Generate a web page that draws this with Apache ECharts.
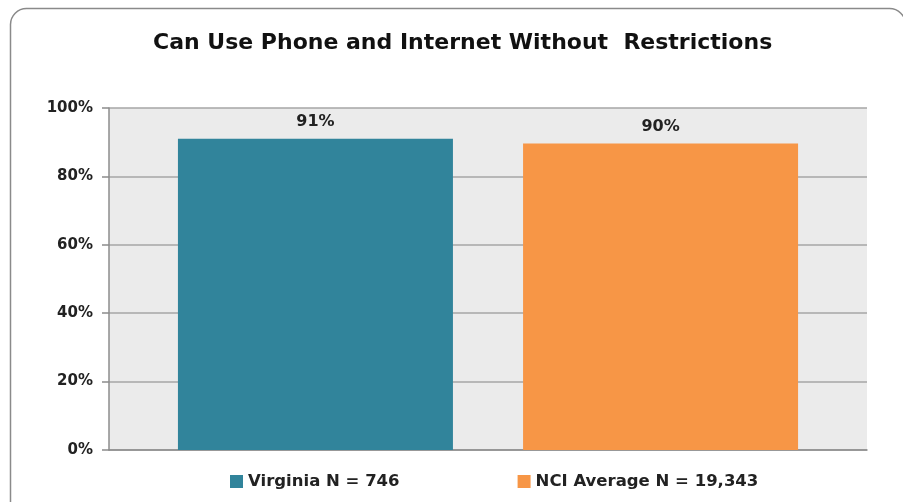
<!DOCTYPE html>
<html><head><meta charset="utf-8">
<script src="https://cdn.jsdelivr.net/npm/echarts@6/dist/echarts.min.js"></script>
<style>html,body{margin:0;padding:0;background:#fff}#c{width:903px;height:502px}</style>
</head><body><div id="c"></div>
<script>
const categories = ['Can Use Phone and Internet Without Restrictions'];
const seriesNames = ['Virginia N = 746', 'NCI Average N = 19,343'];
const values = [91, 89.6];
const labels = ['91%', '90%'];
const yTicks = ['0%', '20%', '40%', '60%', '80%', '100%'];
const colors = ['#31849b', '#f79646'];
const FONT = 'DejaVu Sans';

const chart = echarts.init(document.getElementById('c'));
const series = seriesNames.map((name, i) => ({
  name: name,
  type: 'bar',
  barWidth: 275,
  barGap: '25.5%',
  itemStyle: { color: colors[i] },
  data: [values[i]],
  label: {
    show: true, position: 'top', distance: 9,
    formatter: () => labels[i],
    fontFamily: FONT, fontWeight: 'bold', fontSize: 16, color: '#222'
  }
}));
chart.setOption({
  animation: false,
  title: {
    text: 'Can Use Phone and Internet Without  Restrictions',
    left: 148, top: 27,
    textStyle: { fontFamily: FONT, fontWeight: 'bold', fontSize: 22, color: '#111' }
  },
  graphic: [{
    type: 'rect', silent: true, z: -1,
    shape: { x: 10.5, y: 8.5, width: 895, height: 520, r: 16 },
    style: { fill: 'none', stroke: '#8a8a8a', lineWidth: 1.5 }
  }],
  legend: {
    bottom: 7, left: 225, itemGap: 118,
    itemWidth: 13, itemHeight: 13, icon: 'rect',
    textStyle: { fontFamily: FONT, fontWeight: 'bold', fontSize: 16.5, color: '#222' }
  },
  grid: { left: 109, right: 36, top: 108, bottom: 52, show: true, backgroundColor: '#ebebeb', borderWidth: 0 },
  xAxis: {
    type: 'category', data: categories,
    axisLine: { lineStyle: { color: '#8c8c8c', width: 1.5 } },
    axisTick: { show: false }, axisLabel: { show: false }
  },
  yAxis: {
    type: 'value', min: 0, max: 100, interval: 20,
    axisLine: { show: true, lineStyle: { color: '#8c8c8c', width: 1.5 } },
    axisTick: { show: true, length: 7, lineStyle: { color: '#8c8c8c', width: 1.5 } },
    splitLine: { lineStyle: { color: '#a6a6a6', width: 1.5 } },
    axisLabel: {
      margin: 16, fontFamily: FONT, fontWeight: 'bold', fontSize: 15, color: '#222',
      formatter: v => yTicks[Math.round(v / 20)]
    }
  },
  series: series
});
</script></body></html>
